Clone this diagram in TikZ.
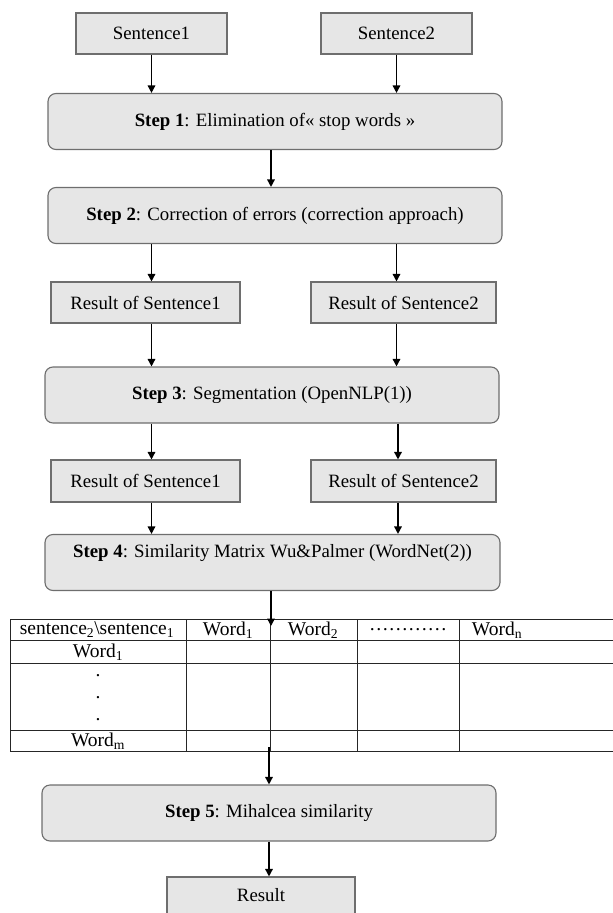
\documentclass[tikz,border=0pt]{standalone}
\usepackage{fontspec}
\setmainfont{Liberation Serif}
\usetikzlibrary{arrows.meta}
\definecolor{boxfill}{HTML}{E6E6E6}
\definecolor{boxline}{HTML}{6E6E6E}
\newcommand{\fsz}{\fontsize{18.8}{22}\selectfont}
\newcommand{\tsz}{\fontsize{19.5}{22}\selectfont}
\begin{document}
\begin{tikzpicture}[x=1pt,y=-1pt,
  box/.style={draw=boxline, fill=boxfill, line width=1.1pt, font=\fsz, inner sep=0pt},
  sqbox/.style={box, minimum width=#1, minimum height=41pt},
  stepbox/.style={box, rounded corners=8pt, minimum width=454pt, minimum height=56pt},
  arr/.style={-{Triangle[length=7.5pt,width=7.5pt]}, line width=1.5pt, black},
  grid/.style={line width=0.9pt, black!85},
  cell/.style={font=\tsz, inner sep=0pt}]
\useasboundingbox (0,0) rectangle (613,913);

% top sentences
\node[sqbox=151pt] (s1) at (151.5,33.5) {Sentence1};
\node[sqbox=151pt] (s2) at (396.5,33.5) {Sentence2};

% steps
\node[stepbox] (st1) at (275,121.5) {\textbf{Step 1}: Elimination of« stop words »};
\node[stepbox] (st2) at (275,215.5) {\textbf{Step 2}: Correction of errors (correction approach)};

\node[sqbox=189pt] (r1a) at (145.5,302.5) {Result of Sentence1};
\node[sqbox=185pt] (r1b) at (403.5,302.5) {Result of Sentence2};

\node[stepbox] (st3) at (272,395) {\textbf{Step 3}: Segmentation (OpenNLP(1))};

\node[sqbox=189pt, minimum height=42pt] (r2a) at (145.5,481) {Result of Sentence1};
\node[sqbox=185pt, minimum height=42pt] (r2b) at (403.5,481) {Result of Sentence2};

\node[stepbox, minimum width=455pt] (st4) at (272.5,562.5) {};
\node[font=\fsz, inner sep=0pt] (st4t) at (272.5,553) {\textbf{Step 4}: Similarity Matrix Wu\&Palmer (WordNet(2))};

\node[stepbox] (st5) at (269,813) {\textbf{Step 5}: Mihalcea similarity};
\node[box, minimum width=188pt, minimum height=58pt] (res) at (261,906) {};
\node[font=\fsz, inner sep=0pt] (rest) at (261,895) {Result};

% table
\foreach \yy in {619,640,663,730,751} \draw[grid] (10,\yy) -- (613,\yy);
\foreach \xx in {10,186,270,357,459} \draw[grid] (\xx,619) -- (\xx,751);
\node[cell] (h0) at (97,630) {sentence\textsubscript{2}\textbackslash sentence\textsubscript{1}};
\node[cell] (h1) at (228,630) {Word\textsubscript{1}};
\node[cell] (h2) at (313,630) {Word\textsubscript{2}};
\node[cell] (h3) at (408,630) {…………};
\node[cell] (h4) at (497,630) {Word\textsubscript{n}};
\node[cell] (w1) at (98,652) {Word\textsubscript{1}};
\node[cell] (d1) at (98,676) {.};
\node[cell] (d2) at (98,698) {.};
\node[cell] (d3) at (98,720) {.};
\node[cell] (wm) at (98,741) {Word\textsubscript{m}};
\coordinate (tabin) at (271,626);
\coordinate (tabout) at (269,747);

% arrows
\draw[arr] (s1.south) -- (s1.south |- st1.north);
\draw[arr] (s2.south) -- (s2.south |- st1.north);
\draw[arr] (st1.south -| 271,0) -- (st2.north -| 271,0);
\draw[arr] (st2.south -| s1.south) -- (r1a.north -| s1.south);
\draw[arr] (st2.south -| s2.south) -- (r1b.north -| s2.south);
\draw[arr] (r1a.south -| s1.south) -- (st3.north -| s1.south);
\draw[arr] (r1b.south -| s2.south) -- (st3.north -| s2.south);
\draw[arr] (st3.south -| s1.south) -- (r2a.north -| s1.south);
\draw[arr] (st3.south -| 398,0) -- (r2b.north -| 398,0);
\draw[arr] (r2a.south -| s1.south) -- (st4.north -| s1.south);
\draw[arr] (r2b.south -| 398,0) -- (st4.north -| 398,0);
\draw[arr] (st4.south -| tabin) -- (tabin);
\draw[arr] (tabout) -- (st5.north -| tabout);
\draw[arr] (st5.south -| tabout) -- (res.north -| tabout);
\end{tikzpicture}
\end{document}
